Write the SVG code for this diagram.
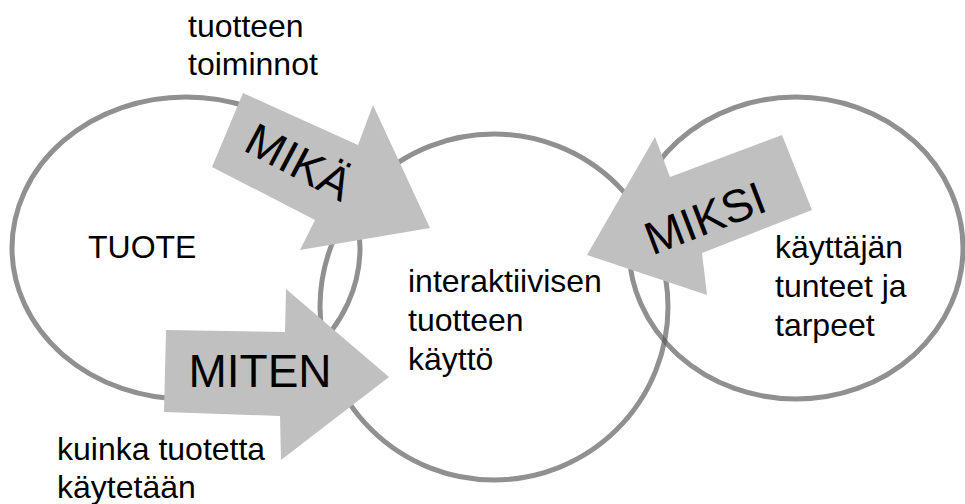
<svg xmlns="http://www.w3.org/2000/svg" width="965" height="504" viewBox="0 0 965 504">
<style>
.ring{fill:none;stroke:#555;stroke-opacity:0.65;stroke-width:5}
.arrow{fill:#c0c0c0;stroke:none}
.t{font-family:"Liberation Sans",Arial,sans-serif;font-size:32px;fill:#000}
.big{font-family:"Liberation Sans",Arial,sans-serif;font-size:46px;fill:#000;text-anchor:middle}
</style>
<rect width="965" height="504" fill="#fff"/>
<g id="tuote">
<ellipse class="ring" cx="186" cy="248" rx="174" ry="151"/>
<text class="t" x="88" y="258">TUOTE</text>
</g>
<g id="kaytto">
<ellipse class="ring" cx="494" cy="307" rx="174" ry="173"/>
<text class="t" x="408" y="292">interaktiivisen</text>
<text class="t" x="408" y="331">tuotteen</text>
<text class="t" x="408" y="370">käyttö</text>
</g>
<g id="kayttaja">
<ellipse class="ring" cx="796" cy="248" rx="167" ry="151"/>
<text class="t" x="775" y="258">käyttäjän</text>
<text class="t" x="775" y="297">tunteet ja</text>
<text class="t" x="775" y="336">tarpeet</text>
</g>
<g id="connectors">
<g id="mika">
<polygon class="arrow" points="243,93 358,145 373,105 430,228 300,250 315,220 212,167"/>
<text class="big" transform="translate(299,162) rotate(28)" x="0" y="16">MIKÄ</text>
</g>
<g id="miten">
<polygon class="arrow" points="166,330 285,332 286,289 389,377 281,460 280,416 164,412"/>
<text class="big" x="260" y="387">MITEN</text>
</g>
<g id="miksi">
<polygon class="arrow" points="782,135 670,177 655,137 587,255 707,295 702,253 812,210"/>
<text class="big" transform="translate(705,218) rotate(-21)" x="0" y="16">MIKSI</text>
</g>
</g>
<g id="labels">
<text class="t" x="188" y="37">tuotteen</text>
<text class="t" x="188" y="75">toiminnot</text>
<text class="t" x="57" y="460">kuinka tuotetta</text>
<text class="t" x="57" y="498">käytetään</text>
</g>
</svg>
